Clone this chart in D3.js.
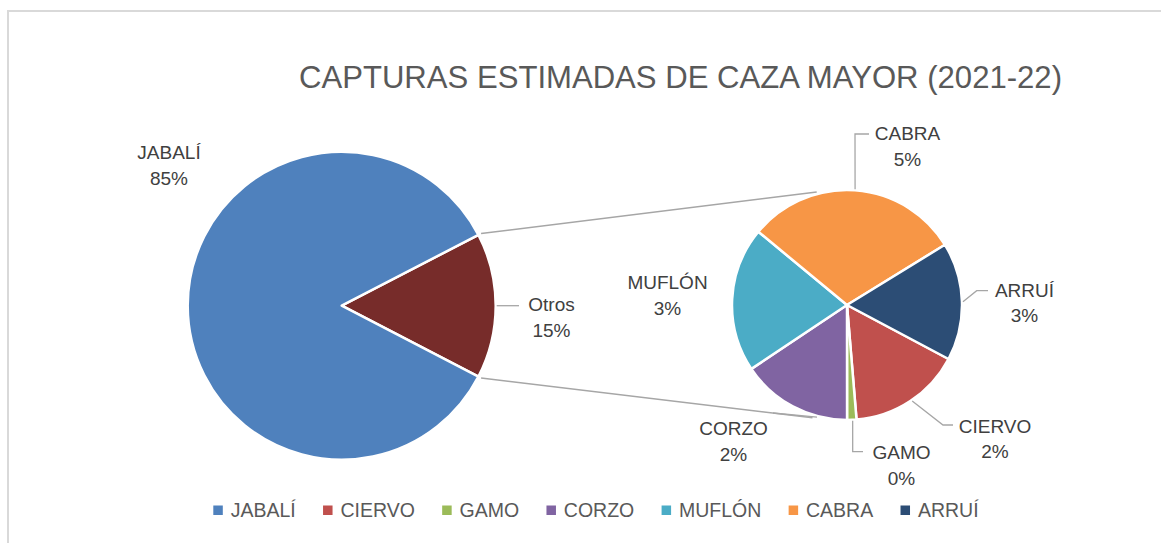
<!DOCTYPE html>
<html>
<head>
<meta charset="utf-8">
<script src="https://cdn.jsdelivr.net/npm/d3@7"></script>
<style>
  body { margin: 0; background: #fff; }
  text { font-family: "Liberation Sans", Arial, sans-serif; }
</style>
</head>
<body>
<div class="canvas"></div>
<script>
// data (share of estimated captures, %)
const categories = ['JABALÍ', 'CIERVO', 'GAMO', 'CORZO', 'MUFLÓN', 'CABRA', 'ARRUÍ'];
const values = [84.78, 2.42, 0.2, 2.38, 3.1, 4.6, 2.52];
const colors = ['#4F81BD', '#C0504D', '#9BBB59', '#8064A2', '#4BACC6', '#F79646', '#2C4D75'];
const otrosName = 'Otros';
const otrosColor = '#772C2A';
const title = 'CAPTURAS ESTIMADAS DE CAZA MAYOR (2021-22)';

const W = 1161, H = 543;
const total = d3.sum(values);
const pct = d3.format('.0%');
const rad = deg => deg * Math.PI / 180;
const polar = (cx, cy, r, deg) => [cx + r * Math.sin(rad(deg)), cy - r * Math.cos(rad(deg))];

// layout
const main = { cx: 341.7, cy: 305.7, r: 154 };
const second = { cx: 847, cy: 305, r: 115, start: 118 };

// label placement relative to each pie centre: text centre x, first baseline y,
// leader = angle on the rim + bend points
const labelLayout = {
  'JABALÍ': { x: -172.7, y: -146.7 },
  'Otros':  { x: 209.8, y: 5.3, leader: { a: 90, pts: [[177.3, 0]] } },
  'CABRA':  { x: 60.5, y: -165, leader: { a: 4, pts: [[8, -171], [22, -171]] } },
  'ARRUÍ':  { x: 177.5, y: -8.3, leader: { a: 88.4, pts: [[129.7, -14.3], [141, -14.3]] } },
  'CIERVO': { x: 148, y: 127.7, leader: { a: 145.8, pts: [[96, 120], [106, 120]] } },
  'GAMO':   { x: 54.5, y: 154, leader: { a: 177.2, pts: [[5.7, 146.7], [16, 146.7]] } },
  'CORZO':  { x: -113.5, y: 130, leader: { a: 195, pts: [[-74, 108]] } },
  'MUFLÓN': { x: -179.5, y: -15.7 }
};

const svg = d3.select('.canvas').append('svg')
    .attr('width', W)
    .attr('height', H);

svg.append('rect').attr('width', W).attr('height', H).attr('fill', '#fff');
svg.append('rect')
    .attr('x', 8).attr('y', 11)
    .attr('width', W + 50).attr('height', H + 50)
    .attr('fill', 'none')
    .attr('stroke', '#D9D9D9')
    .attr('stroke-width', 2);

svg.append('text')
    .attr('x', 680.5)
    .attr('y', 88)
    .attr('text-anchor', 'middle')
    .attr('font-size', 32)
    .attr('fill', '#595959')
    .attr('textLength', 763)
    .attr('lengthAdjust', 'spacingAndGlyphs')
    .text(title);

// main pie: JABALÍ + Otros (Otros centred on the right)
const otrosValue = d3.sum(values.slice(1));
const mainData = [
  { name: otrosName, value: otrosValue, color: otrosColor },
  { name: categories[0], value: values[0], color: colors[0] }
];
const otrosDeg = otrosValue / total * 360;
const mainPie = d3.pie().sort(null).value(d => d.value)
    .startAngle(rad(90 - otrosDeg / 2))
    .endAngle(rad(450 - otrosDeg / 2));
const mainArcs = mainPie(mainData);
const mainArc = d3.arc().innerRadius(0).outerRadius(main.r);

// secondary pie: the small species
const secondData = categories.slice(1).map((c, i) => ({ name: c, value: values[i + 1], color: colors[i + 1] }));
const secondPie = d3.pie().sort(null).value(d => d.value)
    .startAngle(rad(second.start))
    .endAngle(rad(second.start + 360));
const secondArcs = secondPie(secondData);
const secondArc = d3.arc().innerRadius(0).outerRadius(second.r);

// connector lines between the pies
const otrosArc = mainArcs[0];
const connectors = [
  [polar(main.cx, main.cy, main.r + 3, otrosArc.startAngle * 180 / Math.PI), polar(second.cx, second.cy, second.r + 2, 345)],
  [polar(main.cx, main.cy, main.r + 3, otrosArc.endAngle * 180 / Math.PI), polar(second.cx, second.cy, second.r + 3, 197)]
];
svg.selectAll('line.connector')
    .data(connectors)
    .join('line')
    .attr('class', 'connector')
    .attr('x1', d => d[0][0]).attr('y1', d => d[0][1])
    .attr('x2', d => d[1][0]).attr('y2', d => d[1][1])
    .attr('stroke', '#A6A6A6')
    .attr('stroke-width', 1.5);

svg.append('g')
    .attr('transform', `translate(${main.cx}, ${main.cy})`)
    .selectAll('path')
    .data(mainArcs)
    .join('path')
    .attr('d', mainArc)
    .attr('fill', d => d.data.color)
    .attr('stroke', '#fff')
    .attr('stroke-width', 2.5)
    .attr('stroke-linejoin', 'round');

svg.append('g')
    .attr('transform', `translate(${second.cx}, ${second.cy})`)
    .selectAll('path')
    .data(secondArcs)
    .join('path')
    .attr('d', secondArc)
    .attr('fill', d => d.data.color)
    .attr('stroke', '#fff')
    .attr('stroke-width', 2.5)
    .attr('stroke-linejoin', 'round');

// data labels
function drawLabels(arcs, pie) {
  arcs.forEach(a => {
    const name = a.data.name;
    const lay = labelLayout[name];
    if (!lay) return;
    if (lay.leader) {
      const start = polar(pie.cx, pie.cy, pie.r + 1, lay.leader.a);
      const pts = [start].concat(lay.leader.pts.map(p => [pie.cx + p[0], pie.cy + p[1]]));
      svg.append('path')
          .attr('d', d3.line()(pts))
          .attr('fill', 'none')
          .attr('stroke', '#A6A6A6')
          .attr('stroke-width', 1.3);
    }
    const t = svg.append('text')
        .attr('text-anchor', 'middle')
        .attr('font-size', 19)
        .attr('fill', '#404040');
    t.append('tspan')
        .attr('x', pie.cx + lay.x)
        .attr('y', pie.cy + lay.y)
        .text(name);
    t.append('tspan')
        .attr('x', pie.cx + lay.x)
        .attr('y', pie.cy + lay.y + 25.5)
        .text(pct(a.data.value / total));
  });
}
drawLabels(mainArcs, main);
drawLabels(secondArcs, second);

// legend
const legend = svg.append('g');
let lx = 213.3;
categories.forEach((c, i) => {
  legend.append('rect')
      .attr('x', lx).attr('y', 505.5)
      .attr('width', 9.5).attr('height', 9.5)
      .attr('fill', colors[i]);
  const t = legend.append('text')
      .attr('x', lx + 17.4)
      .attr('y', 516.7)
      .attr('font-size', 19.5)
      .attr('fill', '#595959')
      .text(c);
  lx += 17.4 + t.node().getComputedTextLength() + 27.3;
});
</script>
</body>
</html>
